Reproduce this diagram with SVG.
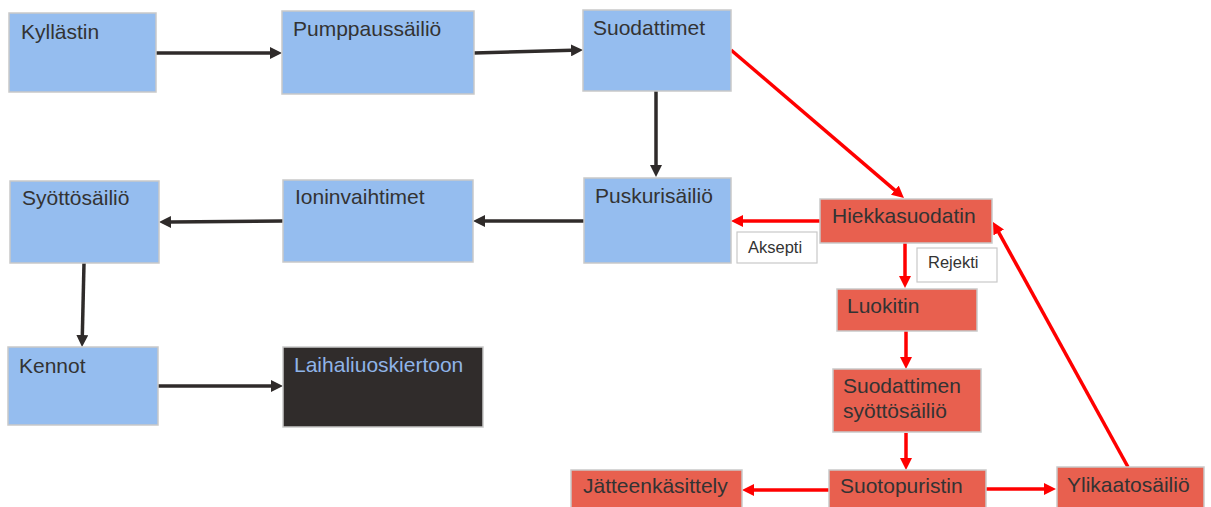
<svg xmlns="http://www.w3.org/2000/svg" width="1211" height="507" viewBox="0 0 1211 507">
  <style>
    .blue { fill: #95bdef; stroke: #c9c9c9; stroke-width: 1.5; }
    .red { fill: #e8604f; stroke: #c9c9c9; stroke-width: 1.5; }
    .dark { fill: #302c2b; stroke: #c9c9c9; stroke-width: 1.5; }
    .note { fill: #ffffff; stroke: #c9c9c9; stroke-width: 1.2; }
    text { font-family: "Liberation Sans", Arial, sans-serif; font-size: 21px; fill: #333333; }
    text.small { font-size: 16.5px; }
    text.light { fill: #8fb4e8; }
    .line-dark { stroke: #2f2b2a; stroke-width: 3.5; fill: none; marker-end: url(#head-dark); }
    .line-red { stroke: #ff0000; stroke-width: 3.5; fill: none; marker-end: url(#head-red); }
  </style>
  <defs>
    <marker id="head-dark" viewBox="0 0 12 12" refX="1" refY="6" markerWidth="12" markerHeight="12" markerUnits="userSpaceOnUse" orient="auto">
      <path d="M0,0 L12,6 L0,12 z" fill="#2f2b2a"/>
    </marker>
    <marker id="head-red" viewBox="0 0 12 12" refX="1" refY="6" markerWidth="12" markerHeight="12" markerUnits="userSpaceOnUse" orient="auto">
      <path d="M0,0 L12,6 L0,12 z" fill="#ff0000"/>
    </marker>
  </defs>

  <rect width="1211" height="507" fill="#ffffff"/>

  <!-- connectors -->
  <g id="connectors">
    <line class="line-dark" x1="156" y1="53" x2="271" y2="53"/>
    <line class="line-dark" x1="474" y1="53" x2="572" y2="50.3"/>
    <line class="line-dark" x1="656" y1="91" x2="656" y2="166"/>
    <line class="line-dark" x1="584" y1="221" x2="484" y2="221"/>
    <line class="line-dark" x1="283" y1="221" x2="170" y2="222"/>
    <line class="line-dark" x1="84" y1="263" x2="82.3" y2="336"/>
    <line class="line-dark" x1="158" y1="386" x2="272" y2="386"/>

    <line class="line-red" x1="731" y1="50" x2="895.6" y2="190.8"/>
    <line class="line-red" x1="820" y1="221" x2="742" y2="221"/>
    <line class="line-red" x1="905" y1="243" x2="905" y2="277"/>
    <line class="line-red" x1="906" y1="331" x2="906" y2="358"/>
    <line class="line-red" x1="906" y1="433" x2="906" y2="459"/>
    <line class="line-red" x1="829" y1="490" x2="753" y2="490"/>
    <line class="line-red" x1="986" y1="489" x2="1045" y2="489"/>
    <line class="line-red" x1="1128" y1="467" x2="998.3" y2="231.6"/>
  </g>

  <!-- process chain -->
  <g id="kyllastin">
    <rect class="blue" x="9" y="13" width="147" height="79"/>
    <text x="21" y="39">Kyllästin</text>
  </g>
  <g id="pumppaussailio">
    <rect class="blue" x="282" y="11" width="192" height="83"/>
    <text x="293" y="36">Pumppaussäiliö</text>
  </g>
  <g id="suodattimet">
    <rect class="blue" x="583" y="10" width="148" height="81"/>
    <text x="593" y="35">Suodattimet</text>
  </g>
  <g id="puskurisailio">
    <rect class="blue" x="584" y="178" width="147" height="85"/>
    <text x="595" y="203">Puskurisäiliö</text>
  </g>
  <g id="ioninvaihtimet">
    <rect class="blue" x="283" y="180" width="190" height="82"/>
    <text x="295" y="204">Ioninvaihtimet</text>
  </g>
  <g id="syottosailio">
    <rect class="blue" x="10" y="181" width="149" height="82"/>
    <text x="22" y="205">Syöttösäiliö</text>
  </g>
  <g id="kennot">
    <rect class="blue" x="8" y="347" width="150" height="78"/>
    <text x="19" y="373">Kennot</text>
  </g>
  <g id="laihaliuoskiertoon">
    <rect class="dark" x="283" y="347" width="200" height="80"/>
    <text class="light" x="294" y="372">Laihaliuoskiertoon</text>
  </g>

  <!-- sand filter loop -->
  <g id="hiekkasuodatin">
    <rect class="red" x="820" y="199" width="172" height="44"/>
    <text x="832" y="223">Hiekkasuodatin</text>
  </g>
  <g id="aksepti">
    <rect class="note" x="737" y="232" width="80" height="31"/>
    <text class="small" x="748" y="253">Aksepti</text>
  </g>
  <g id="rejekti">
    <rect class="note" x="917" y="248" width="80" height="34"/>
    <text class="small" x="928" y="268">Rejekti</text>
  </g>
  <g id="luokitin">
    <rect class="red" x="837" y="289" width="140" height="42"/>
    <text x="847" y="313">Luokitin</text>
  </g>
  <g id="suodattimen-syottosailio">
    <rect class="red" x="833" y="369" width="148" height="63"/>
    <text x="843" y="393">Suodattimen</text>
    <text x="843" y="418">syöttösäiliö</text>
  </g>
  <g id="suotopuristin">
    <rect class="red" x="829" y="470" width="157" height="40"/>
    <text x="840" y="493">Suotopuristin</text>
  </g>
  <g id="jatteenkasittely">
    <rect class="red" x="571" y="470" width="171" height="40"/>
    <text x="583" y="493">Jätteenkäsittely</text>
  </g>
  <g id="ylikaatosailio">
    <rect class="red" x="1057" y="467" width="147" height="43"/>
    <text x="1067" y="492">Ylikaatosäiliö</text>
  </g>
</svg>
